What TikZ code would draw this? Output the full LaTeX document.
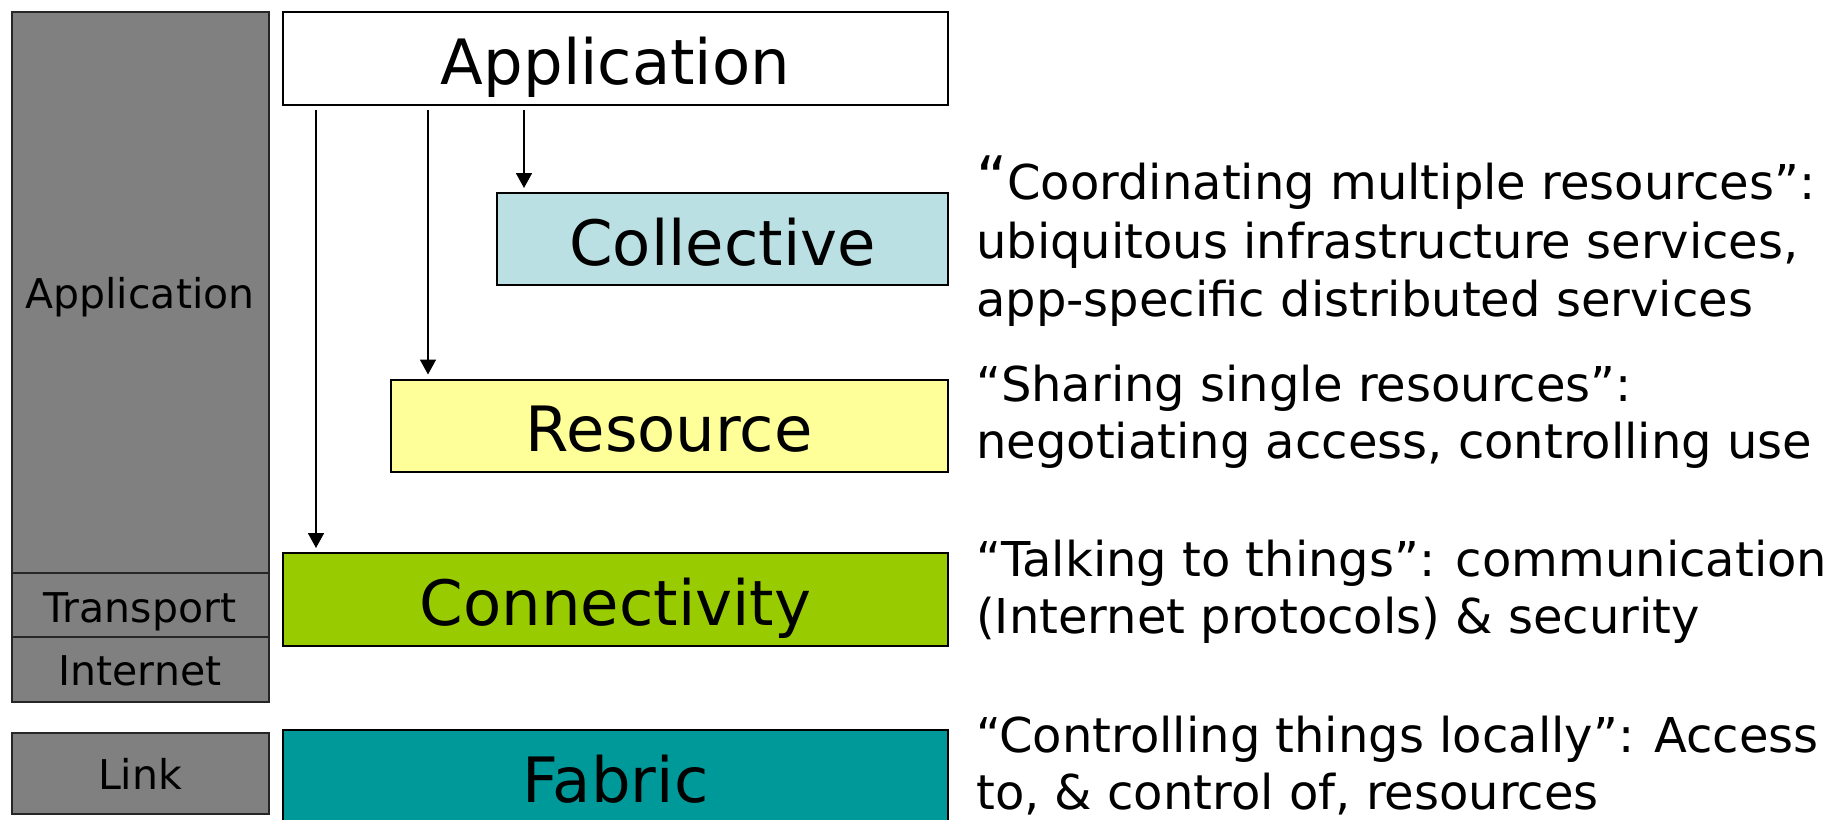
\documentclass[tikz,border=0pt]{standalone}
\usepackage{fontspec}
\setmainfont{DejaVu Sans}
\usetikzlibrary{arrows.meta}
\definecolor{grayL}{HTML}{808080}
\definecolor{colC}{HTML}{BBE0E3}
\definecolor{resC}{HTML}{FFFF99}
\definecolor{conC}{HTML}{99CC00}
\definecolor{fabC}{HTML}{009999}
\begin{document}
\begin{tikzpicture}[x=1pt,y=-1pt,
  layer/.style={draw=black, line width=2pt, inner sep=0pt, text height=52pt, text depth=0pt, font=\fontsize{62.5}{70}\selectfont},
  tcp/.style={draw=black!85, line width=2pt, fill=grayL, inner sep=0pt, text height=31pt, text depth=0pt, font=\fontsize{41}{48}\selectfont, minimum width=257pt},
  desc/.style={anchor=base west, inner sep=0pt, font=\fontsize{48}{56}\selectfont},
  arr/.style={line width=1.7pt, -{Triangle[width=16pt,length=15pt]}, shorten <=4pt, shorten >=4pt}]
\useasboundingbox (0,0) rectangle (1833,819);
\clip (0,0) rectangle (1833,819);

% TCP/IP column
\node[tcp, minimum height=561pt] (gApp) at (140,292.5) {Application};
\node[tcp, minimum height=64pt] (gTr) at (140,605) {\raisebox{-2pt}{Transport}};
\node[tcp, minimum height=65pt] (gIn) at (140,669.5) {Internet};
\node[tcp, minimum height=81pt] (gLk) at (140,773.5) {Link};

% Grid layers
\node[layer, fill=white, minimum width=665pt, minimum height=93pt] (app) at (615.5,58.5) {Application};
\node[layer, fill=colC, minimum width=451pt, minimum height=92pt] (col) at (722.5,239) {Collective};
\node[layer, fill=resC, minimum width=557pt, minimum height=92pt] (res) at (669.3,425.5) {Resource};
\node[layer, fill=conC, minimum width=665pt, minimum height=93pt] (con) at (615.5,599.5) {Connectivity};
\node[layer, fill=fabC, minimum width=665pt, minimum height=93pt] (fab) at (615.5,776.5) {Fabric};

% arrows
\coordinate (a1) at (316,0);
\coordinate (a2) at (428,0);
\coordinate (a3) at (524,0);
\draw[arr] (app.south -| a1) -- (con.north -| a1);
\draw[arr] (app.south -| a2) -- (res.north -| a2);
\draw[arr] (app.south -| a3) -- (col.north -| a3);

% descriptions
\node[desc] (t1) at (976,199) {{\fontsize{60}{60}\selectfont “}Coordinating multiple resources”:};
\node[desc] (t2) at (976,258) {ubiquitous infrastructure services,};
\node[desc] (t3) at (976,316) {app-specific distributed services};
\node[desc] (t4) at (976,401) {“Sharing single resources”:};
\node[desc] (t5) at (976,458) {negotiating access, controlling use};
\node[desc] (t6) at (976,576) {“Talking to things”: communication};
\node[desc] (t7) at (976,633) {(Internet protocols) \& security};
\node[desc] (t8) at (976,752) {“Controlling things locally”: Access};
\node[desc] (t9) at (976,809) {to, \& control of, resources};
\end{tikzpicture}
\end{document}
